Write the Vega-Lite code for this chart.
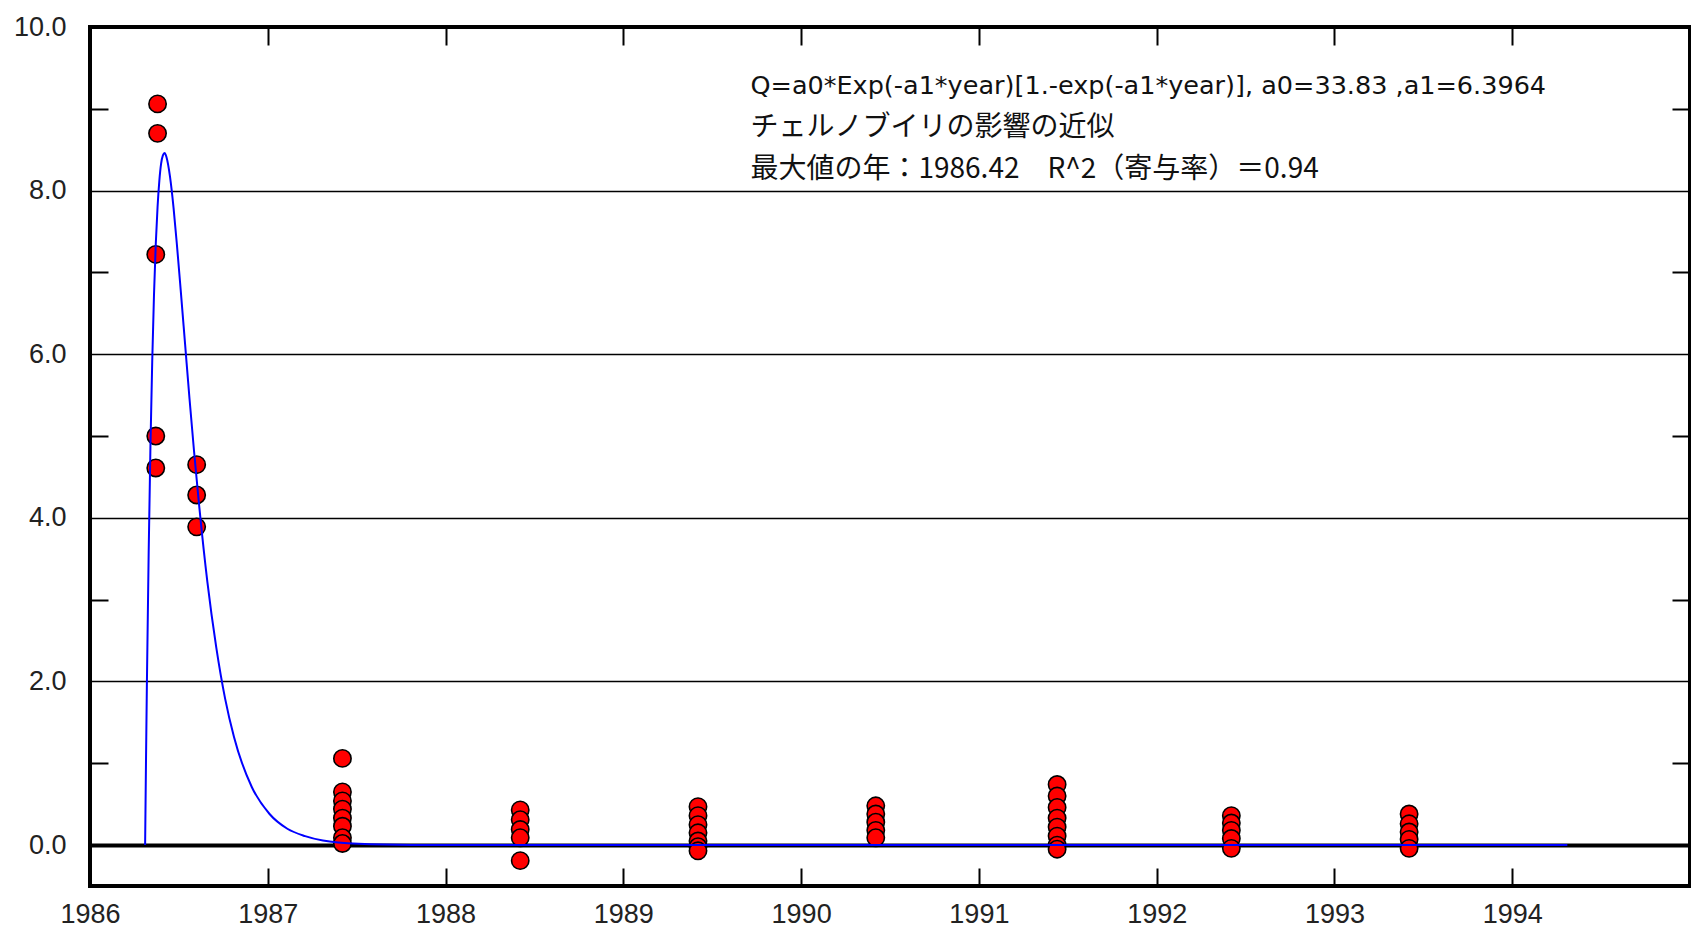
{
  "$schema": "https://vega.github.io/schema/vega-lite/v6.json",
  "width": 1600,
  "height": 859,
  "autosize": {"type": "none"},
  "padding": {"left": 90, "top": 27, "right": 1, "bottom": 42},
  "background": "white",
  "view": {"stroke": "black", "strokeWidth": 4},
  "config": {
    "axis": {"labelFont": "Liberation Sans", "labelFontSize": 27, "labelColor": "#222", "tickColor": "black", "tickWidth": 2, "title": null}
  },
  "datasets": {
    "obs": [
      {"year": 1986.38, "value": 9.06}, {"year": 1986.38, "value": 8.70},
      {"year": 1986.37, "value": 7.22}, {"year": 1986.37, "value": 5.00}, {"year": 1986.37, "value": 4.61},
      {"year": 1986.60, "value": 4.65}, {"year": 1986.60, "value": 4.28}, {"year": 1986.60, "value": 3.89},
      {"year": 1987.42, "value": 1.06}, {"year": 1987.42, "value": 0.65}, {"year": 1987.42, "value": 0.54}, {"year": 1987.42, "value": 0.44}, {"year": 1987.42, "value": 0.33}, {"year": 1987.42, "value": 0.23}, {"year": 1987.42, "value": 0.09}, {"year": 1987.42, "value": 0.02},
      {"year": 1988.42, "value": 0.43}, {"year": 1988.42, "value": 0.31}, {"year": 1988.42, "value": 0.19}, {"year": 1988.42, "value": 0.09}, {"year": 1988.42, "value": -0.19},
      {"year": 1989.42, "value": 0.47}, {"year": 1989.42, "value": 0.36}, {"year": 1989.42, "value": 0.25}, {"year": 1989.42, "value": 0.15}, {"year": 1989.42, "value": 0.05}, {"year": 1989.42, "value": -0.02}, {"year": 1989.42, "value": -0.07},
      {"year": 1990.42, "value": 0.48}, {"year": 1990.42, "value": 0.38}, {"year": 1990.42, "value": 0.28}, {"year": 1990.42, "value": 0.18}, {"year": 1990.42, "value": 0.09},
      {"year": 1991.44, "value": 0.74}, {"year": 1991.44, "value": 0.60}, {"year": 1991.44, "value": 0.46}, {"year": 1991.44, "value": 0.33}, {"year": 1991.44, "value": 0.22}, {"year": 1991.44, "value": 0.11}, {"year": 1991.44, "value": 0.00}, {"year": 1991.44, "value": -0.05},
      {"year": 1992.42, "value": 0.36}, {"year": 1992.42, "value": 0.27}, {"year": 1992.42, "value": 0.18}, {"year": 1992.42, "value": 0.08}, {"year": 1992.42, "value": -0.04},
      {"year": 1993.42, "value": 0.38}, {"year": 1993.42, "value": 0.26}, {"year": 1993.42, "value": 0.16}, {"year": 1993.42, "value": 0.07}, {"year": 1993.42, "value": -0.04}
    ],
    "fit": [
      {"year": 1986.31, "value": 0}, {"year": 1986.315, "value": 1.03}, {"year": 1986.32, "value": 1.97},
      {"year": 1986.33, "value": 3.57}, {"year": 1986.34, "value": 4.88}, {"year": 1986.35, "value": 5.91},
      {"year": 1986.36, "value": 6.73}, {"year": 1986.37, "value": 7.35}, {"year": 1986.38, "value": 7.80},
      {"year": 1986.39, "value": 8.12}, {"year": 1986.40, "value": 8.33}, {"year": 1986.41, "value": 8.43},
      {"year": 1986.42, "value": 8.46}, {"year": 1986.43, "value": 8.41}, {"year": 1986.45, "value": 8.17},
      {"year": 1986.47, "value": 7.79}, {"year": 1986.49, "value": 7.31}, {"year": 1986.51, "value": 6.79},
      {"year": 1986.535, "value": 6.12}, {"year": 1986.56, "value": 5.45}, {"year": 1986.585, "value": 4.82},
      {"year": 1986.61, "value": 4.24}, {"year": 1986.66, "value": 3.22}, {"year": 1986.71, "value": 2.42},
      {"year": 1986.76, "value": 1.79}, {"year": 1986.81, "value": 1.32}, {"year": 1986.91, "value": 0.71},
      {"year": 1987.01, "value": 0.38}, {"year": 1987.11, "value": 0.20}, {"year": 1987.21, "value": 0.11},
      {"year": 1987.31, "value": 0.056}, {"year": 1987.51, "value": 0.016}, {"year": 1987.81, "value": 0.002},
      {"year": 1988.31, "value": 0}, {"year": 1994.31, "value": 0}
    ]
  },
  "resolve": {"axis": {"x": "independent", "y": "independent"}},
  "layer": [
    {
      "data": {"name": "obs"},
      "mark": {"type": "point", "shape": "circle", "filled": true, "fill": "#ff0000", "stroke": "black", "strokeWidth": 1.6, "size": 300, "opacity": 1},
      "encoding": {
        "x": {"field": "year", "type": "quantitative", "scale": {"domain": [1986, 1995], "nice": false, "zero": false},
          "axis": {"orient": "bottom", "values": [1986, 1987, 1988, 1989, 1990, 1991, 1992, 1993, 1994], "format": "d", "domain": false, "grid": false, "tickSize": -18, "labelPadding": 33, "labelFlush": false, "labelOverlap": false, "labelBound": false}},
        "y": {"field": "value", "type": "quantitative", "scale": {"domain": [-0.5, 10], "nice": false, "zero": false},
          "axis": {"orient": "left", "values": [0, 1, 2, 3, 4, 5, 6, 7, 8, 9, 10], "labelExpr": "datum.value % 2 == 0 ? format(datum.value, '.1f') : ''", "domain": false, "tickSize": -18, "labelPadding": 42, "labelFlush": false, "labelOverlap": false, "labelBound": false,
            "tickOpacity": {"condition": {"test": "datum.value % 2 == 0", "value": 0}, "value": 1},
            "grid": true, "gridColor": "black",
            "gridOpacity": {"condition": {"test": "datum.value % 2 == 1 || datum.value == 10", "value": 0}, "value": 1},
            "gridWidth": {"condition": {"test": "datum.value == 0", "value": 4}, "value": 1.5}}}
      }
    },
    {
      "data": {"name": "fit"},
      "mark": {"type": "line", "color": "#0000ff", "strokeWidth": 2, "interpolate": "monotone"},
      "encoding": {
        "x": {"field": "year", "type": "quantitative", "scale": {"domain": [1986, 1995], "nice": false, "zero": false},
          "axis": {"orient": "top", "values": [1987, 1988, 1989, 1990, 1991, 1992, 1993, 1994], "labels": false, "domain": false, "grid": false, "tickSize": -18}},
        "y": {"field": "value", "type": "quantitative", "scale": {"domain": [-0.5, 10], "nice": false, "zero": false},
          "axis": {"orient": "right", "values": [1, 3, 5, 7, 9], "labels": false, "domain": false, "grid": false, "tickSize": -18}}
      }
    },
    {
      "data": {"values": [{"year": 1989.715, "value": 9.28, "label": "Q=a0*Exp(-a1*year)[1.-exp(-a1*year)], a0=33.83 ,a1=6.3964"}]},
      "mark": {"type": "text", "align": "left", "baseline": "middle", "font": "DejaVu Sans", "fontSize": 25.5, "color": "#111"},
      "encoding": {
        "x": {"field": "year", "type": "quantitative", "scale": {"domain": [1986, 1995], "nice": false, "zero": false}, "axis": null},
        "y": {"field": "value", "type": "quantitative", "scale": {"domain": [-0.5, 10], "nice": false, "zero": false}, "axis": null},
        "text": {"field": "label"}
      }
    },
    {
      "data": {"values": [
        {"year": 1989.715, "value": 8.76, "label": "チェルノブイリの影響の近似"},
        {"year": 1989.715, "value": 8.25, "label": "最大値の年：1986.42　R^2（寄与率）＝0.94"}
      ]},
      "mark": {"type": "text", "align": "left", "baseline": "middle", "font": "Noto Sans CJK JP", "fontSize": 28, "color": "#111"},
      "encoding": {
        "x": {"field": "year", "type": "quantitative", "scale": {"domain": [1986, 1995], "nice": false, "zero": false}, "axis": null},
        "y": {"field": "value", "type": "quantitative", "scale": {"domain": [-0.5, 10], "nice": false, "zero": false}, "axis": null},
        "text": {"field": "label"}
      }
    }
  ]
}
